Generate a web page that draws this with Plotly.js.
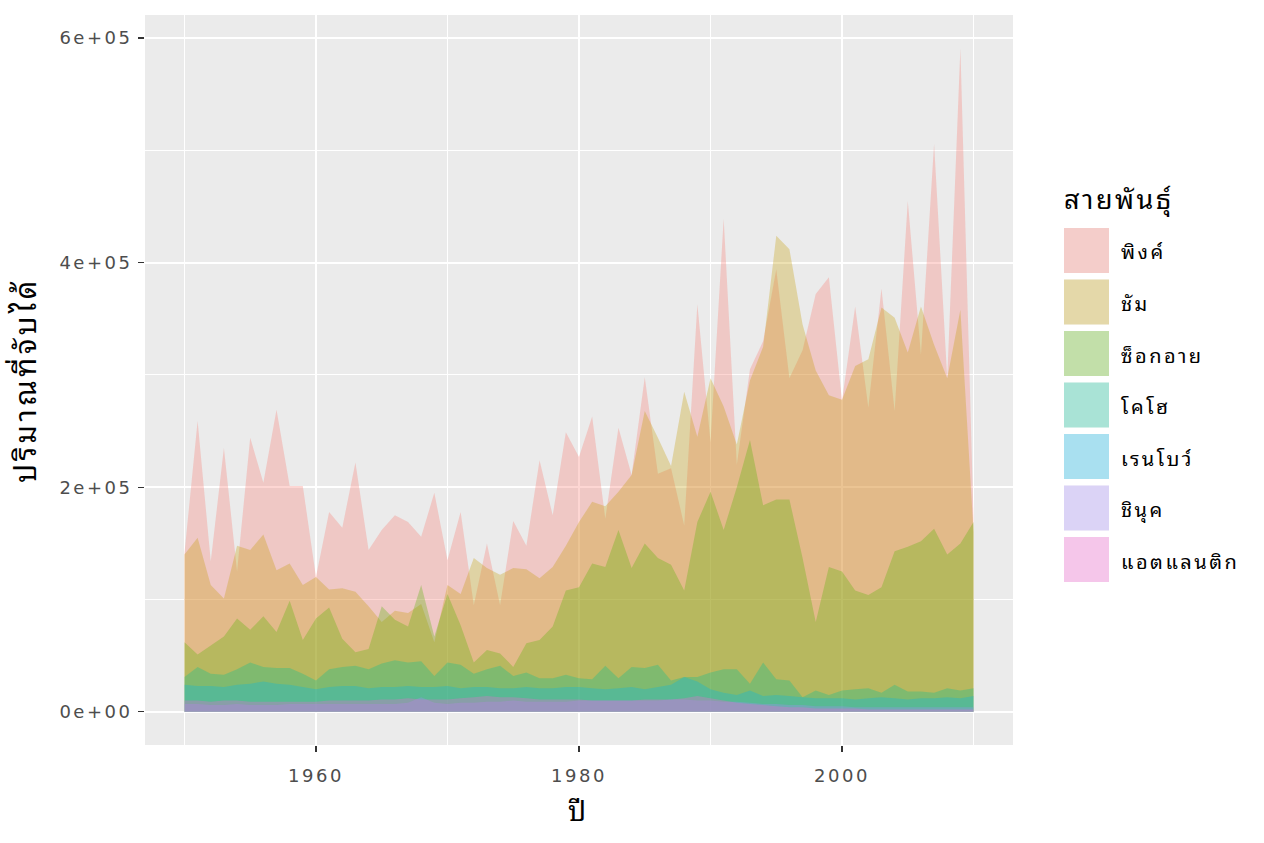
<!DOCTYPE html>
<html>
<head>
<meta charset="utf-8">
<script src="https://cdn.plot.ly/plotly-3.0.1.min.js"></script>
<style>
html,body{margin:0;padding:0;background:#fff;}
.xtick text, .ytick text { letter-spacing: 2.5px; }
.annotation-text { letter-spacing: 2.5px; }
.xtitle { letter-spacing: 4px; }
.ytitle { letter-spacing: 3.5px; }
</style>
</head>
<body>
<div id="chart" style="width:1264px;height:843px;"></div>
<script>
// ---- data (thousands) ----
const years = [];
for (let y = 1950; y <= 2010; y++) years.push(y);

const categories = ["พิงค์","ชัม","ซ็อกอาย","โคโฮ","เรนโบว์","ชินุค","แอตแลนติก"];
const colors = ["#F8766D","#C49A00","#53B400","#00C094","#00B6EB","#A58AFF","#FB61D7"];

const pink = [141,259,134,235,125,244,204,269,201,201,
              120,178,164,222,144,162,175,169,156,195,
              135,178,95,150,95,170,148,224,175,249,
              227,263,172,253,211,298,212,217,166,363,
              240,439,220,305,330,394,297,322,372,387,
              277,361,271,377,268,455,318,506,297,591,
              172];
const chum = [140,155,113,101,148,144,158,126,132,113,
              120,109,110,107,94,80,90,88,96,62,
              113,105,137,128,122,128,127,119,129,148,
              169,187,183,196,211,268,244,219,285,245,
              297,272,238,295,325,424,412,345,304,282,
              278,308,314,360,351,320,361,327,297,358,
              160];
const sockeye = [62,51,59,67,83,73,85,71,99,64,
                 83,93,65,53,56,94,82,76,113,67,
                 105,77,44,55,52,40,61,64,76,108,
                 111,132,129,162,128,150,137,131,108,169,
                 196,162,200,242,184,189,189,137,80,129,
                 125,108,104,111,143,147,152,163,140,150,
                 169];
const coho = [31,40,34,33,38,44,40,39,39,34,
              28,38,40,41,38,43,46,44,45,32,
              44,42,34,38,41,32,35,30,30,33,
              30,29,41,30,40,39,42,28,31,31,
              35,38,38,25,44,29,28,13,19,15,
              19,20,21,17,24,18,18,17,21,19,
              21];
const rainbow = [24,23,23,22,24,25,27,25,24,22,
                 20,22,23,23,21,22,22,23,22,22,
                 23,21,22,22,21,21,22,21,21,22,
                 22,21,20,21,22,20,22,24,31,27,
                 20,17,15,19,14,15,14,13,12,12,
                 12,11,12,13,12,11,12,12,13,12,
                 14];
const chinook = [7,7,6,6,7,6,6,6,7,7,
                 7,7,7,7,7,7,7,8,13,8,
                 7,8,8,9,9,10,9,9,9,9,
                 10,10,10,10,10,10,10,11,11,10,
                 10,9,9,8,7,7,6,6,5,5,
                 5,4,4,4,4,4,4,4,4,4,
                 4];
const atlantic = [10,10,9,10,10,9,9,9,9,9,
                  9,10,10,10,10,11,11,12,11,11,
                  11,12,13,14,13,13,12,11,11,11,
                  11,10,10,10,10,11,11,11,12,14,
                  12,10,8,7,6,5,4,4,3,3,
                  3,3,2,2,2,2,2,2,2,2,
                  2];

const series = [pink, chum, sockeye, coho, rainbow, chinook, atlantic];

const xTickVals = [1960, 1980, 2000];
const xMinorVals = [1950, 1970, 1990, 2010];
const yTickVals = [0, 200000, 400000, 600000];
const yTickText = ["0e+00", "2e+05", "4e+05", "6e+05"];
const yMinorVals = [100000, 300000, 500000];

const legendTitle = "สายพันธุ์";
const xTitle = "ปี";
const yTitle = "ปริมาณที่จับได้";

// ---- helpers ----
function rgba(hex, a) {
  const r = parseInt(hex.slice(1,3),16), g = parseInt(hex.slice(3,5),16), b = parseInt(hex.slice(5,7),16);
  return `rgba(${r},${g},${b},${a})`;
}
const ALPHA = 0.3;
const thaiFont = "Noto Sans Thai Looped, Noto Sans Thai, Noto Sans, DejaVu Sans, Liberation Sans, sans-serif";
const tickFont = "DejaVu Sans, Liberation Sans, Arial, sans-serif";

const traces = series.map((vals, i) => ({
  type: 'scatter',
  x: years,
  y: vals.map(v => v * 1000),
  mode: 'none',
  fill: 'tozeroy',
  fillcolor: rgba(colors[i], ALPHA),
  name: categories[i],
  hoverinfo: 'skip'
}));

const allVals = series.flat().map(v => v * 1000);
const yMax = Math.max(...allVals);
const yMin = 0;
const ySpan = yMax - yMin;

// ---- layout geometry ----
const W = 1264, H = 843;
const M = {l: 145, r: 251, t: 15, b: 98};
const pw = W - M.l - M.r, ph = H - M.t - M.b;
const px2x = px => (px - M.l) / pw;
const py2y = py => (H - M.b - py) / ph;

const shapes = [];
const annotations = [];

annotations.push({
  xref: 'paper', yref: 'paper', x: px2x(1062), y: py2y(197),
  xanchor: 'left', yanchor: 'middle', showarrow: false,
  text: legendTitle, font: {family: thaiFont, size: 27, color: '#000'}
});
const keyTop0 = 228, keyStep = 51.5, keySize = 45;
categories.forEach((c, i) => {
  const top = keyTop0 + i * keyStep;
  shapes.push({
    type: 'rect', xref: 'paper', yref: 'paper', layer: 'above',
    x0: px2x(1064), x1: px2x(1064 + keySize), y0: py2y(top + keySize), y1: py2y(top),
    fillcolor: '#F2F2F2', line: {width: 0}
  });
  shapes.push({
    type: 'rect', xref: 'paper', yref: 'paper', layer: 'above',
    x0: px2x(1064), x1: px2x(1064 + keySize), y0: py2y(top + keySize), y1: py2y(top),
    fillcolor: rgba(colors[i], ALPHA), line: {width: 0}
  });
  annotations.push({
    xref: 'paper', yref: 'paper', x: px2x(1119), y: py2y(top + keySize / 2),
    xanchor: 'left', yanchor: 'middle', showarrow: false,
    text: c, font: {family: thaiFont, size: 20, color: '#000'}
  });
});

const layout = {
  width: W, height: H,
  margin: M,
  paper_bgcolor: '#FFFFFF',
  plot_bgcolor: '#EBEBEB',
  showlegend: false,
  hovermode: false,
  xaxis: {
    range: [1947, 2013],
    tickvals: xTickVals,
    ticktext: xTickVals.map(String),
    ticks: 'outside', ticklen: 6, tickwidth: 1.2, tickcolor: '#333333',
    ticklabelstandoff: 8,
    showgrid: true, gridcolor: '#FFFFFF', gridwidth: 2,
    minor: {tickvals: xMinorVals, showgrid: true, gridcolor: '#FFFFFF', gridwidth: 1, ticks: ''},
    zeroline: false, showline: false,
    tickfont: {family: tickFont, size: 18, color: '#4D4D4D'},
    title: {text: xTitle, font: {family: thaiFont, size: 28, color: '#000'}, standoff: 14}
  },
  yaxis: {
    range: [yMin - 0.05 * ySpan, yMax + 0.05 * ySpan],
    tickvals: yTickVals,
    ticktext: yTickText,
    ticks: 'outside', ticklen: 6, tickwidth: 1.2, tickcolor: '#333333',
    ticklabelstandoff: 2,
    showgrid: true, gridcolor: '#FFFFFF', gridwidth: 2,
    minor: {tickvals: yMinorVals, showgrid: true, gridcolor: '#FFFFFF', gridwidth: 1, ticks: ''},
    zeroline: false, showline: false,
    tickfont: {family: tickFont, size: 18, color: '#4D4D4D'},
    title: {text: yTitle, font: {family: thaiFont, size: 29, color: '#000'}, standoff: 18}
  },
  shapes: shapes,
  annotations: annotations
};

Plotly.newPlot('chart', traces, layout, {displayModeBar: false, staticPlot: true});
</script>
</body>
</html>
